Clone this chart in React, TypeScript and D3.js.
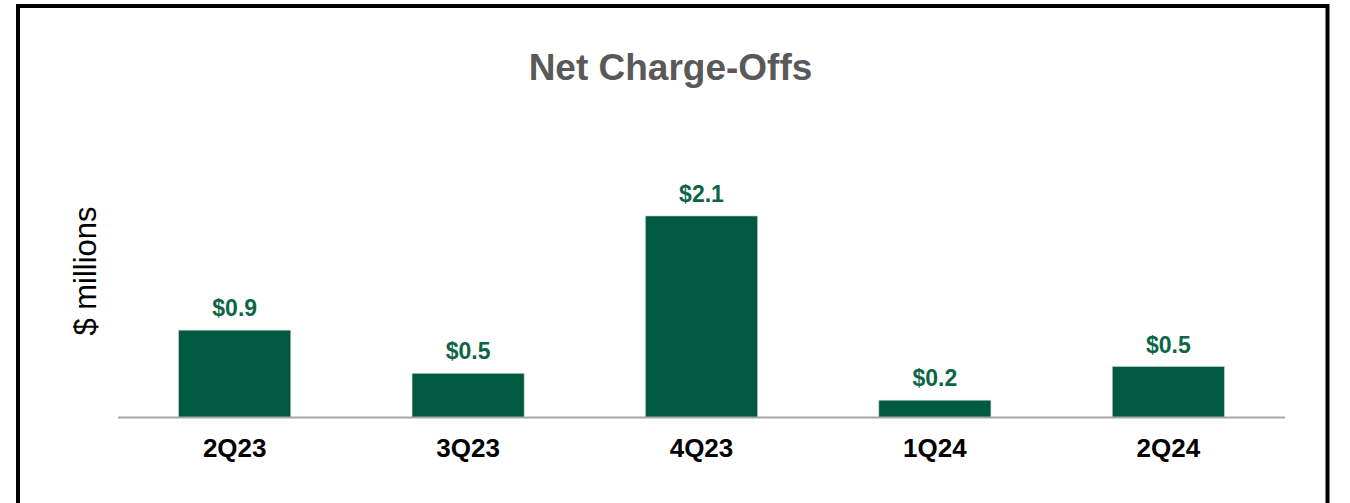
import React from "react";
import * as d3 from "d3";

const categories = ["2Q23", "3Q23", "4Q23", "1Q24", "2Q24"];
const values = [0.91, 0.46, 2.1, 0.18, 0.53];
const title = "Net Charge-Offs";
const yLabel = "$ millions";

const W = 1350;
const H = 503;
const FONT = "'Liberation Sans', Arial, Helvetica, sans-serif";

export default function App() {
  const x = d3
    .scaleBand<string>()
    .domain(categories)
    .range([118, 1285])
    .paddingInner(0.52)
    .paddingOuter(0.26);
  const y = d3.scaleLinear().domain([0, 2.1]).range([417.5, 216]);
  const fmt = d3.format(".1f");

  return (
    <svg
      width={W}
      height={H}
      style={{ position: "absolute", left: 0, top: 0, display: "block", background: "#fff" }}
      fontFamily={FONT}
    >
      <rect x={0} y={0} width={W} height={H} fill="#fff" />
      <rect x={18} y={6} width={1309.5} height={540} fill="none" stroke="#000" strokeWidth={4} />
      <text x={670.5} y={80} textAnchor="middle" fontSize={37} fontWeight="bold" fill="#595959">
        {title}
      </text>
      <text
        transform={`translate(96,271) rotate(-90)`}
        textAnchor="middle"
        fontSize={31}
        fill="#000"
      >
        {yLabel}
      </text>
      {categories.map((c, i) => (
        <g key={c}>
          <rect
            x={x(c)}
            y={y(values[i])}
            width={x.bandwidth()}
            height={y(0) - y(values[i])}
            fill="#005a41"
            stroke="#b8c9c0"
            strokeWidth={0.6}
          />
          <text
            x={(x(c) as number) + x.bandwidth() / 2}
            y={y(values[i]) - 14}
            textAnchor="middle"
            fontSize={23}
            fontWeight="bold"
            fill="#0b6646"
          >
            {"$" + fmt(values[i])}
          </text>
          <text
            x={(x(c) as number) + x.bandwidth() / 2}
            y={457}
            textAnchor="middle"
            fontSize={26}
            fontWeight="bold"
            fill="#000"
          >
            {c}
          </text>
        </g>
      ))}
      <line x1={118} x2={1285} y1={417.5} y2={417.5} stroke="#a6a6a6" strokeWidth={2} />
    </svg>
  );
}
